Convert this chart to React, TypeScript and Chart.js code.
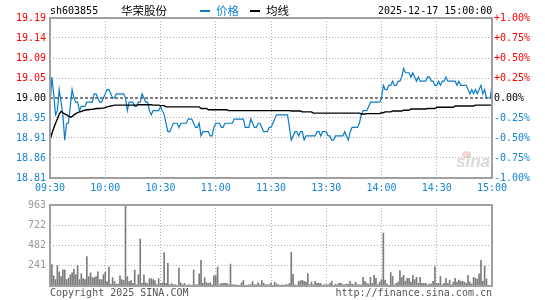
import React, { useEffect, useRef } from 'react';
import { Chart, registerables } from 'chart.js';
Chart.register(...registerables);

const prevClose = 19.0;
const timeLabels = ['09:30', '10:00', '10:30', '11:00', '11:30', '13:30', '14:00', '14:30', '15:00'];
const timeTickMinutes = [0, 30, 60, 90, 120, 150, 180, 210, 240];
const priceTickLabels = ['18.81', '18.86', '18.91', '18.95', '19.00', '19.05', '19.09', '19.14', '19.19'];
const pctTicks = [-1, -0.75, -0.5, -0.25, 0, 0.25, 0.5, 0.75, 1];
const pctLabels = ['-1.00%', '-0.75%', '-0.50%', '-0.25%', '0.00%', '+0.25%', '+0.50%', '+0.75%', '+1.00%'];
const volTicks = [241, 482, 722, 963];
const volTickLabels = ['241', '482', '722', '963'];

const price = [
  18.98, 19.05, 19.01, 18.96, 18.97, 19.02, 18.99, 18.96, 18.90, 18.94,
  18.94, 18.98, 19.02, 19.00, 18.99, 18.99, 18.97, 18.98, 18.98, 18.98,
  18.99, 18.99, 18.99, 18.99, 19.01, 19.01, 19.00, 18.99, 18.99, 19.00,
  19.01, 19.02, 19.02, 19.01, 19.00, 19.00, 19.01, 19.01, 19.01, 19.01,
  19.01, 19.00, 18.97, 18.99, 18.99, 18.99, 18.98, 18.98, 18.99, 18.99,
  19.01, 19.00, 18.99, 18.99, 18.97, 18.96, 18.97, 18.97, 18.97, 18.97,
  18.98, 18.97, 18.96, 18.94, 18.92, 18.92, 18.93, 18.94, 18.94, 18.94,
  18.93, 18.94, 18.94, 18.94, 18.94, 18.95, 18.95, 18.95, 18.94, 18.93,
  18.93, 18.94, 18.91, 18.92, 18.92, 18.92, 18.92, 18.91, 18.91, 18.93,
  18.94, 18.94, 18.94, 18.93, 18.93, 18.94, 18.94, 18.94, 18.94, 18.94,
  18.95, 18.95, 18.95, 18.95, 18.95, 18.95, 18.93, 18.93, 18.93, 18.95,
  18.94, 18.93, 18.93, 18.94, 18.94, 18.93, 18.92, 18.92, 18.92, 18.93,
  18.93, 18.94, 18.95, 18.96, 18.96, 18.96, 18.96, 18.96, 18.96, 18.96,
  18.93, 18.90, 18.91, 18.92, 18.92, 18.91, 18.92, 18.92, 18.90, 18.91,
  18.91, 18.91, 18.91, 18.91, 18.91, 18.92, 18.92, 18.91, 18.92, 18.92,
  18.92, 18.91, 18.91, 18.90, 18.90, 18.91, 18.91, 18.91, 18.91, 18.91,
  18.92, 18.91, 18.90, 18.92, 18.93, 18.93, 18.93, 18.93, 18.94, 18.96,
  18.97, 18.97, 18.97, 18.98, 18.99, 18.99, 18.99, 18.99, 18.99, 18.99,
  19.00, 19.03, 19.02, 19.02, 19.03, 19.03, 19.04, 19.03, 19.03, 19.04,
  19.04, 19.05, 19.07, 19.06, 19.06, 19.06, 19.05, 19.06, 19.05, 19.04,
  19.05, 19.04, 19.04, 19.04, 19.04, 19.05, 19.05, 19.04, 19.04, 19.03,
  19.03, 19.04, 19.03, 19.04, 19.04, 19.05, 19.04, 19.04, 19.04, 19.04,
  19.04, 19.03, 19.04, 19.03, 19.03, 19.03, 19.03, 19.02, 19.01, 19.02,
  19.01, 19.02, 19.01, 19.02, 19.03, 19.01, 19.02, 19.00, 19.00, 19.00,
  19.03,
];

const avgPrice = [
  18.900, 18.915, 18.928, 18.940, 18.950, 18.962, 18.968, 18.965, 18.962, 18.960,
  18.957, 18.955, 18.956, 18.960, 18.963, 18.965, 18.967, 18.968, 18.970, 18.971,
  18.972, 18.972, 18.973, 18.973, 18.974, 18.975, 18.975, 18.975, 18.976, 18.976,
  18.977, 18.979, 18.980, 18.981, 18.982, 18.983, 18.983, 18.983, 18.983, 18.983,
  18.983, 18.983, 18.983, 18.983, 18.983, 18.983, 18.983, 18.983, 18.984, 18.984,
  18.984, 18.984, 18.984, 18.984, 18.984, 18.984, 18.983, 18.983, 18.983, 18.983,
  18.982, 18.982, 18.982, 18.979, 18.979, 18.979, 18.979, 18.979, 18.979, 18.979,
  18.979, 18.979, 18.979, 18.979, 18.979, 18.979, 18.979, 18.979, 18.979, 18.979,
  18.979, 18.979, 18.975, 18.975, 18.975, 18.975, 18.972, 18.972, 18.972, 18.972,
  18.972, 18.972, 18.972, 18.972, 18.972, 18.972, 18.972, 18.970, 18.970, 18.970,
  18.970, 18.970, 18.970, 18.970, 18.970, 18.970, 18.970, 18.970, 18.970, 18.970,
  18.970, 18.970, 18.970, 18.970, 18.970, 18.970, 18.970, 18.970, 18.970, 18.970,
  18.970, 18.970, 18.970, 18.970, 18.970, 18.970, 18.970, 18.970, 18.970, 18.970,
  18.970, 18.969, 18.969, 18.969, 18.969, 18.969, 18.969, 18.967, 18.967, 18.967,
  18.967, 18.967, 18.967, 18.964, 18.964, 18.964, 18.964, 18.964, 18.964, 18.964,
  18.964, 18.964, 18.964, 18.964, 18.964, 18.964, 18.964, 18.964, 18.964, 18.964,
  18.964, 18.964, 18.964, 18.964, 18.964, 18.964, 18.964, 18.964, 18.964, 18.962,
  18.962, 18.962, 18.963, 18.963, 18.963, 18.963, 18.963, 18.963, 18.963, 18.963,
  18.965, 18.965, 18.967, 18.967, 18.967, 18.967, 18.969, 18.969, 18.969, 18.969,
  18.969, 18.969, 18.971, 18.971, 18.971, 18.971, 18.974, 18.974, 18.974, 18.974,
  18.974, 18.974, 18.974, 18.974, 18.974, 18.975, 18.975, 18.975, 18.975, 18.975,
  18.978, 18.978, 18.978, 18.978, 18.978, 18.978, 18.978, 18.978, 18.978, 18.978,
  18.981, 18.981, 18.981, 18.981, 18.981, 18.981, 18.981, 18.981, 18.981, 18.981,
  18.981, 18.983, 18.983, 18.983, 18.983, 18.983, 18.983, 18.983, 18.983, 18.983,
  18.983,
];

const volume = [
  65, 256, 122, 76, 241, 168, 111, 191, 191, 76,
  92, 134, 157, 202, 134, 245, 76, 145, 88, 76,
  351, 111, 157, 99, 99, 111, 168, 76, 76, 134,
  164, 53, 225, 23, 99, 53, 23, 23, 122, 76,
  65, 963, 111, 53, 65, 31, 191, 15, 134, 558,
  31, 134, 38, 27, 88, 88, 76, 65, 15, 88,
  31, 38, 397, 31, 271, 15, 27, 15, 15, 8,
  214, 38, 15, 31, 8, 15, 15, 8, 191, 15,
  15, 145, 306, 31, 99, 38, 31, 38, 15, 122,
  122, 225, 15, 31, 31, 31, 31, 15, 260, 15,
  15, 15, 8, 8, 38, 65, 8, 8, 15, 15,
  53, 15, 15, 38, 15, 65, 31, 15, 15, 15,
  38, 8, 46, 23, 15, 8, 15, 8, 15, 15,
  31, 401, 138, 15, 8, 53, 61, 69, 57, 46,
  149, 15, 46, 15, 57, 31, 31, 31, 8, 15,
  15, 15, 31, 57, 8, 23, 15, 31, 31, 15,
  15, 23, 23, 57, 23, 15, 46, 15, 15, 15,
  103, 57, 31, 23, 103, 31, 126, 92, 15, 46,
  76, 630, 69, 23, 8, 160, 115, 15, 31, 46,
  183, 103, 126, 57, 92, 92, 46, 126, 76, 103,
  31, 103, 31, 31, 31, 15, 23, 23, 57, 229,
  31, 31, 115, 15, 31, 92, 31, 69, 15, 46,
  92, 46, 69, 57, 57, 46, 31, 126, 46, 23,
  103, 92, 84, 145, 306, 57, 237, 84, 0, 0,
  0,
];

const BLUE_LINE = '#0a7cc8';
const BLUE_TEXT = '#1584d6';
const RED_TEXT = '#ff0000';
const GRID = '#b0b0b0';
const FRAME = '#a0a0a0';
const MONO = "'DejaVu Sans Mono', monospace";

const framePlugin = {
  id: 'frame',
  afterDatasetsDraw(chart: any) {
    const { ctx, chartArea } = chart;
    const { left, top, right, bottom } = chartArea;
    ctx.save();
    ctx.strokeStyle = FRAME;
    ctx.lineWidth = 2;
    ctx.strokeRect(left, top, right - left, bottom - top);
    ctx.restore();
  },
};

export default function App() {
  const priceRef = useRef<HTMLCanvasElement>(null);
  const volRef = useRef<HTMLCanvasElement>(null);

  useEffect(() => {
    const font = { family: MONO, size: 10 };
    const priceChart = new Chart(priceRef.current as HTMLCanvasElement, {
      type: 'line',
      data: {
        datasets: [
          {
            label: '均线',
            data: avgPrice.map((v, i) => ({ x: i, y: v })),
            borderColor: '#000000',
            borderWidth: 1.4,
            pointRadius: 0,
            tension: 0,
            order: 0,
          },
          {
            label: '价格',
            data: price.map((v, i) => ({ x: i, y: v })),
            borderColor: BLUE_LINE,
            borderWidth: 1.2,
            pointRadius: 0,
            tension: 0,
            order: 1,
          },
          {
            label: 'prev',
            data: [
              { x: timeTickMinutes[0], y: prevClose },
              { x: timeTickMinutes[timeTickMinutes.length - 1], y: prevClose },
            ],
            borderColor: '#000000',
            borderWidth: 1,
            borderDash: [3, 2],
            pointRadius: 0,
            order: 2,
          },
        ],
      },
      options: {
        responsive: false,
        animation: false,
        events: [],
        layout: { padding: { top: 18, left: 0, right: 0, bottom: 0 } },
        plugins: { legend: { display: false }, tooltip: { enabled: false } },
        scales: {
          x: {
            type: 'linear',
            min: 0,
            max: 240,
            afterBuildTicks: (s: any) => {
              s.ticks = timeTickMinutes.map((v) => ({ value: v }));
            },
            afterFit: (s: any) => {
              s.height = 22;
            },
            ticks: {
              autoSkip: false,
              maxRotation: 0,
              padding: 4,
              color: BLUE_TEXT,
              font,
              callback: (_v: any, i: number) => timeLabels[i],
            },
            grid: { color: GRID, drawTicks: false },
            border: { display: false, dash: [1, 2] },
          },
          y: {
            position: 'left',
            min: prevClose * 0.99,
            max: prevClose * 1.01,
            afterBuildTicks: (s: any) => {
              s.ticks = pctTicks.map((p) => ({ value: prevClose * (1 + p / 100) }));
            },
            afterFit: (s: any) => {
              s.width = 50;
            },
            ticks: {
              autoSkip: false,
              padding: 4,
              font,
              color: (c: any) => (c.index < 4 ? BLUE_TEXT : c.index === 4 ? '#000000' : RED_TEXT),
              callback: (_v: any, i: number) => priceTickLabels[i],
            },
            grid: {
              color: (c: any) => (c.index === 4 ? 'rgba(0,0,0,0)' : GRID),
              drawTicks: false,
            },
            border: { display: false, dash: [1, 2] },
          },
          y2: {
            position: 'right',
            min: -1,
            max: 1,
            afterBuildTicks: (s: any) => {
              s.ticks = pctTicks.map((p) => ({ value: p }));
            },
            afterFit: (s: any) => {
              s.width = 53;
            },
            ticks: {
              autoSkip: false,
              padding: 2,
              font,
              color: (c: any) => (c.index < 4 ? BLUE_TEXT : c.index === 4 ? '#000000' : RED_TEXT),
              callback: (_v: any, i: number) => pctLabels[i],
            },
            grid: { drawOnChartArea: false, drawTicks: false },
            border: { display: false },
          },
        },
      } as any,
      plugins: [framePlugin],
    });

    const volChart = new Chart(volRef.current as HTMLCanvasElement, {
      type: 'bar',
      data: {
        datasets: [
          {
            label: 'vol',
            data: volume.map((v, i) => ({ x: i, y: v })),
            backgroundColor: '#7c7c7c',
            borderWidth: 0,
            barThickness: 1,
          },
        ],
      },
      options: {
        responsive: false,
        animation: false,
        events: [],
        layout: { padding: { top: 7, right: 53, left: 0, bottom: 0 } },
        plugins: { legend: { display: false }, tooltip: { enabled: false } },
        scales: {
          x: {
            type: 'linear',
            min: 0,
            max: 240,
            offset: false,
            afterBuildTicks: (s: any) => {
              s.ticks = timeTickMinutes.map((v) => ({ value: v }));
            },
            afterFit: (s: any) => {
              s.height = 14;
            },
            ticks: { display: false },
            grid: { color: GRID, drawTicks: false, offset: false },
            border: { display: false, dash: [1, 2] },
          },
          y: {
            min: 0,
            max: volTicks[volTicks.length - 1],
            afterBuildTicks: (s: any) => {
              s.ticks = volTicks.map((v) => ({ value: v }));
            },
            afterFit: (s: any) => {
              s.width = 50;
            },
            ticks: {
              autoSkip: false,
              padding: 4,
              font,
              color: '#999999',
              callback: (_v: any, i: number) => volTickLabels[i],
            },
            grid: { color: GRID, drawTicks: false },
            border: { display: false, dash: [1, 2] },
          },
        },
      } as any,
      plugins: [framePlugin],
    });

    return () => {
      priceChart.destroy();
      volChart.destroy();
    };
  }, []);

  const monoText: React.CSSProperties = {
    position: 'absolute',
    fontFamily: MONO,
    fontSize: 10,
    lineHeight: '12px',
    whiteSpace: 'nowrap',
  };
  const cjkText: React.CSSProperties = {
    position: 'absolute',
    fontFamily: "'Noto Sans CJK SC', sans-serif",
    fontSize: 11.5,
    lineHeight: '14px',
    whiteSpace: 'nowrap',
  };

  return (
    <div
      style={{
        position: 'fixed',
        left: 0,
        top: 0,
        width: 545,
        height: 300,
        background: '#ffffff',
        overflow: 'hidden',
      }}
    >
      <canvas ref={priceRef} width={545} height={200} style={{ position: 'absolute', left: 0, top: 0 }} />
      <canvas ref={volRef} width={545} height={105} style={{ position: 'absolute', left: 0, top: 195 }} />

      <span style={{ ...monoText, left: 50, top: 5, color: '#000' }}>sh603855</span>
      <span style={{ ...cjkText, left: 121, top: 3, color: '#000' }}>华荣股份</span>
      <span style={{ position: 'absolute', left: 200, top: 10, width: 10, height: 2, background: BLUE_LINE }} />
      <span style={{ ...cjkText, left: 216, top: 3, color: BLUE_TEXT }}>价格</span>
      <span style={{ position: 'absolute', left: 250, top: 10, width: 10, height: 2, background: '#000' }} />
      <span style={{ ...cjkText, left: 266, top: 3, color: '#000' }}>均线</span>
      <span style={{ ...monoText, left: 378, top: 5, color: '#000' }}>2025-12-17 15:00:00</span>

      <span
        style={{
          position: 'absolute',
          left: 462,
          top: 151,
          width: 9,
          height: 7,
          borderRadius: '50%',
          background: 'rgba(235,120,120,0.3)',
        }}
      />
      <span
        style={{
          position: 'absolute',
          left: 456,
          top: 152,
          fontFamily: "'Liberation Sans', sans-serif",
          fontStyle: 'italic',
          fontWeight: 'bold',
          fontSize: 17,
          lineHeight: '20px',
          color: 'rgba(170,170,170,0.45)',
        }}
      >
        sina
      </span>

      <span style={{ ...monoText, left: 50, top: 287, color: '#555' }}>Copyright 2025 SINA.COM</span>
      <span style={{ ...monoText, right: 545 - 492, top: 287, color: '#555' }}>http://finance.sina.com.cn</span>
    </div>
  );
}
